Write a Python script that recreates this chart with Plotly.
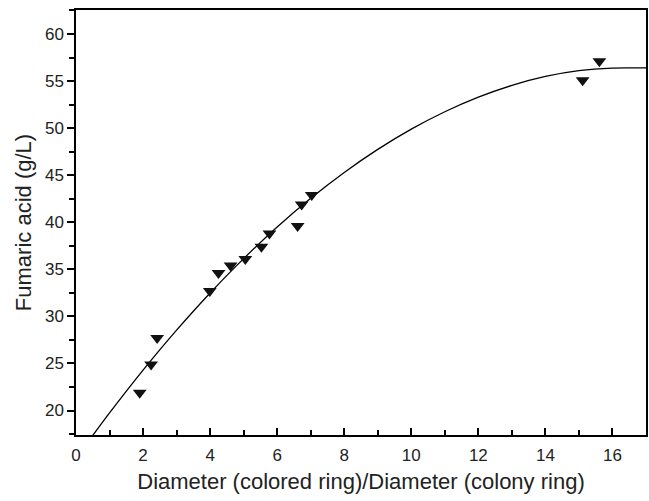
import plotly.graph_objects as go

ratio = [1.90, 2.24, 2.42, 3.99, 4.25, 4.61, 5.05, 5.53, 5.77, 6.61, 6.73, 7.03, 15.11, 15.61]
fumaric = [21.9, 24.9, 27.7, 32.7, 34.6, 35.4, 36.1, 37.4, 38.8, 39.6, 41.9, 42.9, 55.1, 57.1]

# Fitted curve
curve_x = [0.5, 1, 2, 3, 4, 5, 6, 7, 8, 9, 10, 11, 12, 13, 14, 15, 16, 16.5, 17]
curve_y = [17.35, 19.74, 24.29, 28.54, 32.49, 36.14, 39.49, 42.54, 45.29, 47.74,
           49.89, 51.74, 53.29, 54.54, 55.49, 56.1, 56.38, 56.4, 56.4]

x_ticks = [0, 2, 4, 6, 8, 10, 12, 14, 16]
y_ticks = [20, 25, 30, 35, 40, 45, 50, 55, 60]

fig = go.Figure()
fig.add_trace(go.Scatter(x=curve_x, y=curve_y, mode="lines",
                         line=dict(color="black", width=1.3, shape="spline", smoothing=0.6),
                         showlegend=False, hoverinfo="skip"))
fig.add_trace(go.Scatter(x=ratio, y=fumaric, mode="markers",
                         marker=dict(symbol="triangle-down", size=12, color="#111111",
                                     line=dict(width=0)),
                         showlegend=False))

font = "Liberation Sans, Arial, sans-serif"
fig.update_layout(
    width=649, height=501,
    margin=dict(l=76, r=1, t=10, b=66),
    paper_bgcolor="white", plot_bgcolor="white",
    font=dict(family=font, color="#222222", size=17),
    xaxis=dict(range=[0, 17], tickvals=x_ticks, ticks="inside", ticklen=7, tickwidth=1.5,
               tickcolor="black", showline=True, linecolor="black", linewidth=1.5,
               mirror=True, showgrid=False, zeroline=False, ticklabelstandoff=4,
               minor=dict(dtick=1, ticks="inside", ticklen=5, tickwidth=1.5, tickcolor="black"),
               tickfont=dict(size=17),
               title=dict(text="Diameter (colored ring)/Diameter (colony ring)",
                          font=dict(size=22), standoff=9)),
    yaxis=dict(range=[17.4, 62.55], tickvals=y_ticks, ticks="outside", ticklen=7, tickwidth=1.5,
               tickcolor="black", showline=True, linecolor="black", linewidth=1.5,
               mirror=True, showgrid=False, zeroline=False,
               minor=dict(dtick=2.5, ticks="outside", ticklen=5, tickwidth=1.5, tickcolor="black"),
               tickfont=dict(size=17),
               title=dict(text="Fumaric acid (g/L)", font=dict(size=22), standoff=7)),
)

fig.write_html("out.html")
